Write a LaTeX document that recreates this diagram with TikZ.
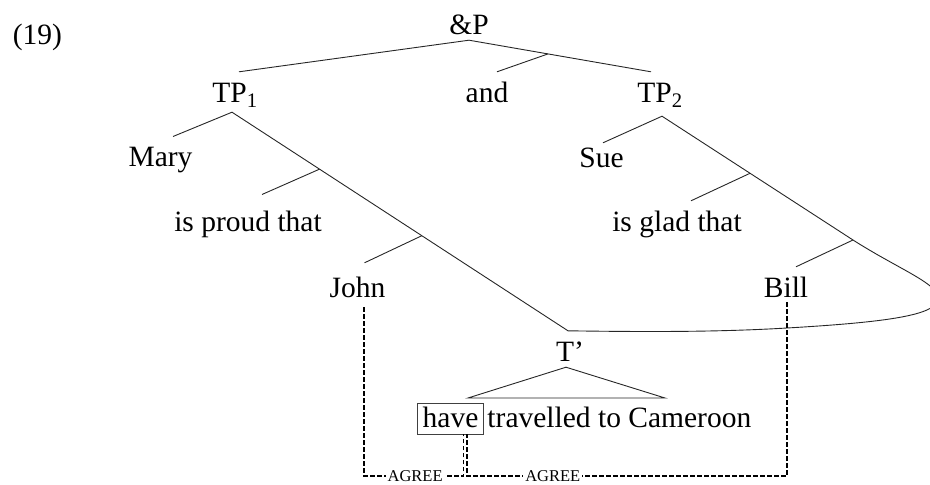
\documentclass[tikz,border=0pt]{standalone}
\usepackage{fontspec}
\setmainfont{Liberation Serif}
\usetikzlibrary{calc}
\tikzset{
    tree-label/.style = {font=\fontsize{29.5}{34}\selectfont, anchor=base, inner xsep=0pt, inner ysep=10pt, text height=20pt, text depth=0pt},
    tree-line/.style = {line width=0.9pt, black!85},
    head-box/.style = {tree-label, draw=black!75, line width=0.9pt, inner xsep=5.5pt, inner ysep=3.5pt, text height=20.5pt, text depth=3.5pt},
    agree-line/.style = {line width=1.5pt, dash pattern=on 4.5pt off 2.5pt},
    agree-label/.style = {font=\fontsize{16.5}{19}\selectfont, fill=white, inner xsep=2pt, inner ysep=0pt, text height=11pt, text depth=0pt},
}

\begin{document}
\begin{tikzpicture}[x=1pt, y=-1pt]
\useasboundingbox (0,0) rectangle (930,485);
\clip (0,0) rectangle (930,485);

\node[tree-label] (ex-num) at (37.5,44) {(19)};
\node[tree-label] (andp) at (469,34) {\&P};
\node[tree-label] (tp1) at (235,102) {TP\textsubscript{1}};
\node[tree-label] (and) at (487,102) {and};
\node[tree-label] (tp2) at (660,102) {TP\textsubscript{2}};
\node[tree-label] (mary) at (160.5,166.7) {Mary};
\node[tree-label] (proud) at (248,231.7) {is proud that};
\node[tree-label] (john) at (357.5,297) {John};
\node[tree-label] (sue) at (601.5,167) {Sue};
\node[tree-label] (glad) at (677,231) {is glad that};
\node[tree-label] (bill) at (786,297) {Bill};
\node[tree-label] (tbar) at (570,361) {T’};
\node[head-box] (have) at (450.5,427) {have};
\node[tree-label, anchor=base west] (vp) at ([xshift=3pt]have.base east) {travelled to Cameroon};

\coordinate (andp-foot) at ([yshift=4pt]andp.south);
\coordinate (tp2-head) at ([xshift=-9pt]tp2.north);
\coordinate (and-join) at ($(andp-foot)!0.434!(tp2-head)$);
\draw[tree-line] ([xshift=4pt]tp1.north) -- (andp-foot) -- (tp2-head);
\draw[tree-line] (and-join) -- ([xshift=10pt]and.north);

\coordinate (tp1-foot) at ([xshift=-3pt]tp1.south);
\coordinate (tbar-head) at ([xshift=-2pt]tbar.north);
\coordinate (b1) at ($(tp1-foot)!0.2605!(tbar-head)$);
\coordinate (b2) at ($(tp1-foot)!0.565!(tbar-head)$);
\draw[tree-line] ([xshift=12.5pt]mary.north) -- (tp1-foot) -- (tbar-head);
\draw[tree-line] (b1) -- ([xshift=14pt,yshift=7pt]proud.north);
\draw[tree-line] (b2) -- ([xshift=7pt,yshift=4pt]john.north);

\coordinate (tp2-foot) at ([xshift=2pt,yshift=-4pt]tp2.south);
\coordinate (b4) at (853,240);
\coordinate (b3) at ($(tp2-foot)!0.461!(b4)$);
\draw[tree-line] ([xshift=1.5pt,yshift=-6pt]sue.north) -- (tp2-foot) -- (b4)
    .. controls (900,270) and (942,285) .. (938,300)
    .. controls (934,315) and (890,322) .. (787,328)
    .. controls (720,332) and (650,332) .. (tbar-head);
\draw[tree-line] (b3) -- ([xshift=14pt]glad.north);
\draw[tree-line] (b4) -- ([xshift=10pt]bill.north);

\coordinate (tri-left) at (468,398);
\coordinate (tri-right) at (665,398);
\draw[tree-line] ([xshift=-4pt,yshift=4pt]tbar.south) -- (tri-left) -- (tri-right) -- cycle;

\coordinate (have-left) at ([xshift=13pt]have.south);
\coordinate (have-right) at ([xshift=16.5pt]have.south);
\coordinate (floor) at (0,476);
\draw[agree-line] ([xshift=6.5pt]john.south) |- node[agree-label, pos=0.757] (agree1) {AGREE} (have-left |- floor) -- (have-left);
\draw[agree-line] ([xshift=1pt,yshift=5pt]bill.south) |- node[agree-label, pos=0.866] (agree2) {AGREE} (have-right |- floor) -- (have-right);
\end{tikzpicture}
\end{document}
